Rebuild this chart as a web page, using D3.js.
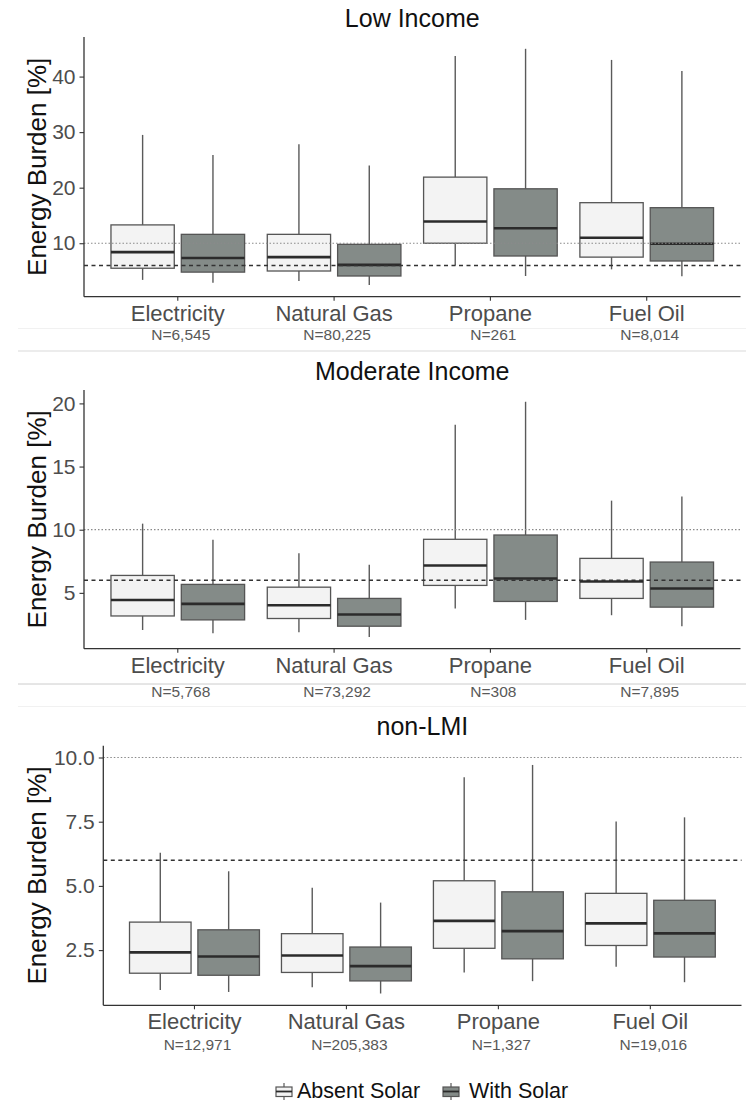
<!DOCTYPE html>
<html>
<head>
<meta charset="utf-8">
<script src="https://cdn.jsdelivr.net/npm/d3@7"></script>
<style>
  html, body { margin: 0; padding: 0; background: #ffffff; }
  svg { display: block; }
</style>
</head>
<body>
<svg id="chart" width="754" height="1104"></svg>
<script>
// ---- data ----
const categories = ["Electricity", "Natural Gas", "Propane", "Fuel Oil"];
const groups = ["Absent Solar", "With Solar"];

// box stats per category: [lower whisker, Q1, median, Q3, upper whisker]
const lowAbsent   = [[3.4, 5.5, 8.4, 13.3, 29.5], [3.2, 5.0, 7.5, 11.6, 27.8], [6.0, 10.0, 13.9, 21.9, 43.7], [5.3, 7.5, 11.0, 17.3, 43.0]];
const lowSolar    = [[2.9, 4.8, 7.35, 11.6, 25.9], [2.5, 4.1, 6.1, 9.8, 24.0], [4.1, 7.7, 12.7, 19.8, 45.0], [4.05, 6.8, 9.9, 16.4, 41.0]];
const modAbsent   = [[2.06, 3.17, 4.44, 6.38, 10.48], [1.88, 2.97, 4.02, 5.45, 8.13], [3.76, 5.59, 7.17, 9.24, 18.31], [3.23, 4.56, 5.9, 7.73, 12.3]];
const modSolar    = [[1.8, 2.86, 4.13, 5.67, 9.21], [1.51, 2.36, 3.29, 4.56, 7.22], [2.86, 4.32, 6.14, 9.58, 20.13], [2.36, 3.87, 5.35, 7.44, 12.62]];
const nonAbsent   = [[0.95, 1.6, 2.41, 3.59, 6.29], [1.05, 1.63, 2.29, 3.14, 4.93], [1.63, 2.57, 3.64, 5.2, 9.23], [1.85, 2.68, 3.54, 4.71, 7.51]];
const nonSolar    = [[0.87, 1.52, 2.25, 3.29, 5.57], [0.81, 1.3, 1.875, 2.62, 4.35], [1.29, 2.16, 3.24, 4.77, 9.71], [1.25, 2.23, 3.15, 4.44, 7.67]];

// household counts per category
const lowN = [6545, 80225, 261, 8014];
const modN = [5768, 73292, 308, 7895];
const nonN = [12971, 205383, 1327, 19016];

// y tick values
const lowTicks = [10, 20, 30, 40];
const modTicks = [5, 10, 15, 20];
const nonTicks = [2.5, 5.0, 7.5, 10.0];

// reference burden thresholds
const thresholdDashed = 6;
const thresholdDotted = 10;

const panelTitles = ["Low Income", "Moderate Income", "non-LMI"];

// ---- layout ----
const panels = [
  { title: panelTitles[0], absent: lowAbsent, solar: lowSolar, n: lowN, ticks: lowTicks, fmt: d3.format("d"),
    left: 84, right: 740.5, top: 37, bottom: 296.7, nOffset: 43.3 },
  { title: panelTitles[1], absent: modAbsent, solar: modSolar, n: modN, ticks: modTicks, fmt: d3.format("d"),
    left: 84, right: 740.5, top: 390, bottom: 648.7, nOffset: 48.6 },
  { title: panelTitles[2], absent: nonAbsent, solar: nonSolar, n: nonN, ticks: nonTicks, fmt: d3.format(".1f"),
    left: 103.3, right: 741.5, top: 745.7, bottom: 1005.3, nOffset: 44.2 }
];

const FONT = "'Liberation Sans', Arial, sans-serif";
const fillColor = d3.scaleOrdinal().domain(groups).range(["#f3f3f3", "#848b88"]);
const svg = d3.select("#chart");

// faint separator lines between the stacked panels
const separators = [
  { y: 328.5, c: "#f1f1f1" },
  { y: 351,   c: "#d9d9d9" },
  { y: 684,   c: "#cccccc" },
  { y: 706.5, c: "#f1f1f1" }
];
svg.selectAll("line.sep").data(separators).join("line")
  .attr("class", "sep")
  .attr("x1", 18).attr("x2", 746)
  .attr("y1", d => d.y).attr("y2", d => d.y)
  .attr("stroke", d => d.c).attr("stroke-width", 1);

panels.forEach(p => {
  const g = svg.append("g");

  const x = d3.scaleBand().domain(categories).range([p.left, p.right])
    .paddingInner(0.1).paddingOuter(0.15);
  const xSub = d3.scaleBand().domain(groups).range([0, x.bandwidth()])
    .paddingInner(0.1).paddingOuter(0.05);

  const all = p.absent.flat().concat(p.solar.flat(), [thresholdDashed, thresholdDotted]);
  const [mn, mx] = d3.extent(all);
  const pad = (mx - mn) * 0.05;
  const y = d3.scaleLinear().domain([mn - pad, mx + pad]).range([p.bottom, p.top]);

  // boxes
  const rows = [];
  categories.forEach((c, i) => {
    rows.push({ cat: c, grp: groups[0], s: p.absent[i] });
    rows.push({ cat: c, grp: groups[1], s: p.solar[i] });
  });

  const box = g.selectAll("g.box").data(rows).join("g").attr("class", "box")
    .attr("transform", d => `translate(${x(d.cat) + xSub(d.grp)},0)`);
  const bw = xSub.bandwidth();

  box.append("line")
    .attr("x1", bw / 2).attr("x2", bw / 2)
    .attr("y1", d => y(d.s[4])).attr("y2", d => y(d.s[3]))
    .attr("stroke", "#5a5a5a").attr("stroke-width", 1.4);
  box.append("line")
    .attr("x1", bw / 2).attr("x2", bw / 2)
    .attr("y1", d => y(d.s[1])).attr("y2", d => y(d.s[0]))
    .attr("stroke", "#5a5a5a").attr("stroke-width", 1.4);
  box.append("rect")
    .attr("x", 0).attr("width", bw)
    .attr("y", d => y(d.s[3])).attr("height", d => y(d.s[1]) - y(d.s[3]))
    .attr("fill", d => fillColor(d.grp))
    .attr("stroke", "#555555").attr("stroke-width", 1.3);
  box.append("line")
    .attr("x1", 0).attr("x2", bw)
    .attr("y1", d => y(d.s[2])).attr("y2", d => y(d.s[2]))
    .attr("stroke", "#2b2b2b").attr("stroke-width", 2.6);

  // threshold lines
  g.append("line")
    .attr("x1", p.left).attr("x2", p.right)
    .attr("y1", y(thresholdDotted)).attr("y2", y(thresholdDotted))
    .attr("stroke", "#8a8a8a").attr("stroke-width", 1.2).attr("stroke-dasharray", "1.5,2");
  g.append("line")
    .attr("x1", p.left).attr("x2", p.right)
    .attr("y1", y(thresholdDashed)).attr("y2", y(thresholdDashed))
    .attr("stroke", "#333333").attr("stroke-width", 1.5).attr("stroke-dasharray", "4,3.5");

  // y axis
  const yAxis = g.append("g").attr("transform", `translate(${p.left},0)`)
    .call(d3.axisLeft(y).tickValues(p.ticks).tickFormat(p.fmt).tickSize(4.5).tickPadding(4));
  yAxis.select(".domain").attr("d", `M0,${p.top}V${p.bottom}`).attr("stroke", "#333333").attr("stroke-width", 1.3);
  yAxis.selectAll(".tick line").attr("stroke", "#333333").attr("stroke-width", 1.1);
  yAxis.selectAll(".tick text").attr("fill", "#4d4d4d").style("font-family", FONT).style("font-size", "21px");

  // x axis (band scale ticks are already centred on each category)
  const xAxis = g.append("g").attr("transform", `translate(0,${p.bottom})`)
    .call(d3.axisBottom(x).tickSize(4).tickPadding(5).tickFormat(() => ""));
  xAxis.select(".domain").attr("d", `M${p.left},0H${p.right}`).attr("stroke", "#333333").attr("stroke-width", 1.3);
  xAxis.selectAll(".tick line").attr("stroke", "#333333").attr("stroke-width", 1.1);
  xAxis.selectAll("text").remove();

  // category labels
  g.selectAll("text.cat").data(categories).join("text").attr("class", "cat")
    .attr("x", d => x(d) + x.bandwidth() / 2)
    .attr("y", p.bottom + 24)
    .attr("text-anchor", "middle")
    .attr("fill", "#4d4d4d")
    .style("font-family", FONT).style("font-size", "22px")
    .text(d => d);

  // sample sizes
  g.selectAll("text.n").data(p.n).join("text").attr("class", "n")
    .attr("x", (d, i) => x(categories[i]) + x.bandwidth() / 2 + 3)
    .attr("y", p.bottom + p.nOffset)
    .attr("text-anchor", "middle")
    .attr("fill", "#595959")
    .style("font-family", FONT).style("font-size", "15.5px")
    .text(d => "N=" + d3.format(",")(d));

  // axis title
  g.append("text")
    .attr("transform", `translate(46,${(p.top + p.bottom) / 2}) rotate(-90)`)
    .attr("text-anchor", "middle")
    .attr("fill", "#111111")
    .style("font-family", FONT).style("font-size", "26px")
    .text("Energy Burden [%]");

  // panel title
  g.append("text")
    .attr("x", (p.left + p.right) / 2)
    .attr("y", p.top - 10.5)
    .attr("text-anchor", "middle")
    .attr("fill", "#111111")
    .style("font-family", FONT).style("font-size", "25px")
    .text(p.title);
});

// ---- legend ----
const legendItems = [
  { grp: groups[0], gx: 276, tx: 297 },
  { grp: groups[1], gx: 443, tx: 469 }
];
const lg = svg.append("g").selectAll("g").data(legendItems).join("g");
lg.append("line")
  .attr("x1", d => d.gx + 8).attr("x2", d => d.gx + 8)
  .attr("y1", 1083).attr("y2", 1100)
  .attr("stroke", "#5a5a5a").attr("stroke-width", 1.2);
lg.append("rect")
  .attr("x", d => d.gx).attr("y", 1087).attr("width", 16).attr("height", 9.5)
  .attr("fill", d => fillColor(d.grp)).attr("stroke", "#555555").attr("stroke-width", 1.2);
lg.append("line")
  .attr("x1", d => d.gx).attr("x2", d => d.gx + 16)
  .attr("y1", 1091.5).attr("y2", 1091.5)
  .attr("stroke", "#2b2b2b").attr("stroke-width", 1.8);
lg.append("text")
  .attr("x", d => d.tx).attr("y", 1098)
  .attr("fill", "#111111")
  .style("font-family", FONT).style("font-size", "21.5px")
  .text(d => d.grp);
</script>
</body>
</html>
